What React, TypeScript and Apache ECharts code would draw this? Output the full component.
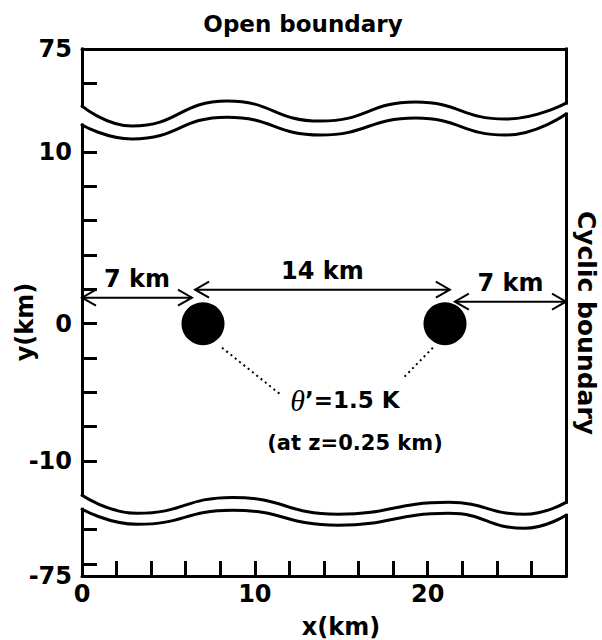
import React, { useEffect, useRef } from "react";
import * as echarts from "echarts";

// ---- axis set-up (km on a broken schematic axis) ----
const xMin = 0;
const xMax = 28;
const yMin = -14.7;
const yMax = 16;
const xTickValues = [2, 4, 6, 8, 10, 12, 14, 16, 18, 20, 22, 24, 26];
const xLabelValues = [0, 10, 20];
const yTickValues = [14, 10, 8, 6, 4, 2, 0, -2, -4, -6, -8, -12, -14];
const yLabelValues = [16, 10, 0, -8, -14.7];
const yLabelTexts = ["75", "10", "0", "-10", "-75"];

// ---- axis-break waves (upper break near y=+12, lower break near y=-11) ----
const upperBreakX = [0, 2.9, 8.4, 13.8, 19.3, 24.5, 28];
const upperBreakTop = [12.67, 11.51, 12.97, 11.8, 12.91, 11.92, 12.85];
const upperBreakBottom = [11.57, 10.76, 12.03, 10.99, 11.98, 10.99, 12.21];
const lowerBreakX = [0, 3.2, 8.7, 14.8, 21.2, 25.6, 28];
const lowerBreakTop = [-10.0, -11.05, -10.12, -11.1, -10.41, -11.1, -10.41];
const lowerBreakBottom = [-10.81, -11.69, -10.87, -11.74, -11.05, -11.92, -11.16];

// ---- warm bubbles ----
const bubbleX = [7, 21];
const bubbleY = [0, 0];

// ---- distance arrows ----
const arrowLabels = ["7 km", "14 km", "7 km"];
const arrowFrom = [0, 6.54, 21.57];
const arrowTo = [6.36, 21.28, 28];
const arrowY = [1.51, 1.98, 1.28];

// ---- dotted leaders from bubbles to the annotation ----
const leaderFrom = [[8.1, -1.4], [20.3, -1.4]];
const leaderTo = [[11.45, -4.1], [18.6, -3.15]];

const FONT = "'DejaVu Sans', sans-serif";
const BLACK = "#000";

function pairs(xs: number[], ys: number[]) {
  return xs.map((x, i) => [x, ys[i]]);
}

export default function App() {
  const ref = useRef<HTMLDivElement>(null);
  useEffect(() => {
    if (!ref.current) return;
    const chart = echarts.init(ref.current, null, { renderer: "svg" });

    const last = upperBreakX.length - 1;
    const lastL = lowerBreakX.length - 1;
    const frameSegments = [
      [[xMin, yMax], [xMin, upperBreakTop[0]]],
      [[xMin, upperBreakBottom[0]], [xMin, lowerBreakTop[0]]],
      [[xMin, lowerBreakBottom[0]], [xMin, yMin]],
      [[xMax, yMax], [xMax, upperBreakTop[last]]],
      [[xMax, upperBreakBottom[last]], [xMax, lowerBreakTop[lastL]]],
      [[xMax, lowerBreakBottom[lastL]], [xMax, yMin]],
    ];

    const waveSeries = (data: number[][]) => ({
      type: "line",
      data,
      smooth: 0.5,
      symbol: "none",
      showSymbol: false,
      clip: false,
      silent: true,
      z: 5,
      lineStyle: { color: BLACK, width: 3, cap: "round" },
    });

    const labelStyle = {
      color: BLACK,
      fontFamily: FONT,
      fontWeight: "bold",
      fontSize: 24,
    };

    const option: any = {
      animation: false,
      backgroundColor: "#fff",
      grid: {
        left: 82,
        right: 36,
        top: 49,
        bottom: 64,
        containLabel: false,
        outerBoundsMode: "none",
      },
      xAxis: [
        {
          type: "value",
          min: xMin,
          max: xMax,
          position: "bottom",
          axisLine: { show: true, onZero: false, lineStyle: { color: BLACK, width: 3 } },
          axisTick: {
            show: true,
            inside: true,
            length: 15,
            customValues: xTickValues,
            lineStyle: { color: BLACK, width: 3 },
          },
          axisLabel: {
            show: true,
            customValues: xLabelValues,
            margin: 6,
            showMinLabel: true,
            showMaxLabel: true,
            ...labelStyle,
          },
          splitLine: { show: false },
        },
        {
          type: "value",
          min: xMin,
          max: xMax,
          position: "top",
          axisLine: { show: true, onZero: false, lineStyle: { color: BLACK, width: 3 } },
          axisTick: { show: false },
          axisLabel: { show: false },
          splitLine: { show: false },
        },
      ],
      yAxis: [
        {
          type: "value",
          min: yMin,
          max: yMax,
          position: "left",
          axisLine: { show: false, onZero: false },
          axisTick: {
            show: true,
            inside: true,
            length: 15,
            customValues: yTickValues,
            lineStyle: { color: BLACK, width: 3 },
          },
          axisLabel: {
            show: true,
            customValues: yLabelValues,
            margin: 10,
            showMinLabel: true,
            showMaxLabel: true,
            hideOverlap: false,
            formatter: (v: number) => {
              const i = yLabelValues.findIndex((t) => Math.abs(t - v) < 1e-6);
              return i >= 0 ? yLabelTexts[i] : "";
            },
            ...labelStyle,
          },
          splitLine: { show: false },
        },
      ],
      series: [
        {
          type: "lines",
          coordinateSystem: "cartesian2d",
          clip: false,
          silent: true,
          z: 4,
          data: frameSegments.map((c) => ({ coords: c })),
          lineStyle: { color: BLACK, width: 3, cap: "square", opacity: 1 },
        },
        waveSeries(pairs(upperBreakX, upperBreakTop)),
        waveSeries(pairs(upperBreakX, upperBreakBottom)),
        waveSeries(pairs(lowerBreakX, lowerBreakTop)),
        waveSeries(pairs(lowerBreakX, lowerBreakBottom)),
        {
          type: "scatter",
          data: pairs(bubbleX, bubbleY),
          symbol: "circle",
          symbolSize: 43,
          itemStyle: { color: BLACK, opacity: 1 },
          silent: true,
          z: 6,
        },
        {
          type: "lines",
          coordinateSystem: "cartesian2d",
          clip: false,
          silent: true,
          z: 4,
          data: leaderFrom.map((f, i) => ({ coords: [f, leaderTo[i]] })),
          lineStyle: { color: BLACK, width: 2, type: [2, 3.5], opacity: 1 },
        },
        {
          type: "custom",
          silent: true,
          clip: false,
          z: 6,
          data: arrowFrom.map((x, i) => [x, arrowTo[i], arrowY[i]]),
          encode: { x: [0, 1], y: 2 },
          renderItem: (params: any, api: any) => {
            const y = api.value(2);
            const p1 = api.coord([api.value(0), y]);
            const p2 = api.coord([api.value(1), y]);
            const hl = 14;
            const hw = 8;
            const st = { stroke: BLACK, lineWidth: 2, fill: null };
            return {
              type: "group",
              children: [
                { type: "line", shape: { x1: p1[0], y1: p1[1], x2: p2[0], y2: p2[1] }, style: st },
                {
                  type: "polyline",
                  shape: { points: [[p1[0] + hl, p1[1] - hw], [p1[0], p1[1]], [p1[0] + hl, p1[1] + hw]] },
                  style: st,
                },
                {
                  type: "polyline",
                  shape: { points: [[p2[0] - hl, p2[1] - hw], [p2[0], p2[1]], [p2[0] - hl, p2[1] + hw]] },
                  style: st,
                },
                {
                  type: "text",
                  x: (p1[0] + p2[0]) / 2,
                  y: p1[1] - 19,
                  style: {
                    text: arrowLabels[params.dataIndex],
                    fill: BLACK,
                    fontFamily: FONT,
                    fontWeight: "bold",
                    fontSize: 24,
                    align: "center",
                    verticalAlign: "middle",
                  },
                },
              ],
            };
          },
        },
      ],
      graphic: [
        {
          type: "text",
          x: 303,
          y: 24,
          style: {
            text: "Open boundary",
            fill: BLACK,
            fontFamily: FONT,
            fontWeight: "bold",
            fontSize: 23,
            align: "center",
            verticalAlign: "middle",
          },
        },
        {
          type: "text",
          x: 586,
          y: 323,
          rotation: -Math.PI / 2,
          style: {
            text: "Cyclic boundary",
            fill: BLACK,
            fontFamily: FONT,
            fontWeight: "bold",
            fontSize: 25,
            align: "center",
            verticalAlign: "middle",
          },
        },
        {
          type: "text",
          x: 341,
          y: 627,
          style: {
            text: "x(km)",
            fill: BLACK,
            fontFamily: FONT,
            fontWeight: "bold",
            fontSize: 24,
            align: "center",
            verticalAlign: "middle",
          },
        },
        {
          type: "text",
          x: 25,
          y: 322,
          rotation: Math.PI / 2,
          style: {
            text: "y(km)",
            fill: BLACK,
            fontFamily: FONT,
            fontWeight: "bold",
            fontSize: 24,
            align: "center",
            verticalAlign: "middle",
          },
        },
        {
          type: "text",
          x: 345,
          y: 400,
          style: {
            text: "{t|θ}{b|’=1.5 K}",
            align: "center",
            verticalAlign: "middle",
            rich: {
              t: {
                fontFamily: "'Liberation Serif', serif",
                fontStyle: "italic",
                fontSize: 30,
                fill: BLACK,
              },
              b: {
                fontFamily: FONT,
                fontWeight: "bold",
                fontSize: 23,
                fill: BLACK,
              },
            },
          },
        },
        {
          type: "text",
          x: 355,
          y: 443,
          style: {
            text: "(at z=0.25 km)",
            fill: BLACK,
            fontFamily: FONT,
            fontWeight: "bold",
            fontSize: 21,
            align: "center",
            verticalAlign: "middle",
          },
        },
      ],
    };

    chart.setOption(option);
    return () => chart.dispose();
  }, []);

  return (
    <div
      ref={ref}
      style={{ position: "fixed", left: 0, top: 0, width: 602, height: 640, background: "#fff" }}
    />
  );
}
